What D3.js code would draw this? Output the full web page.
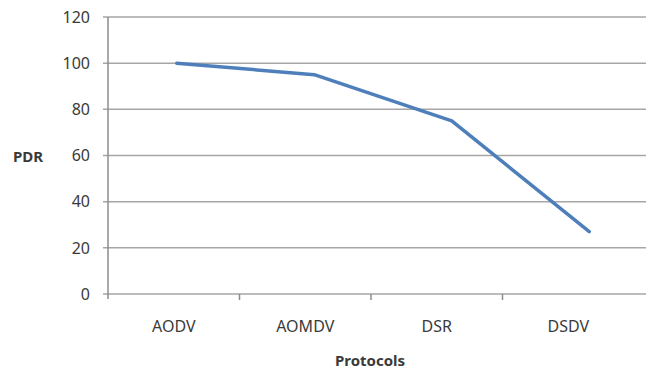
<!DOCTYPE html>
<html>
<head>
<meta charset="utf-8">
<script src="https://cdn.jsdelivr.net/npm/d3@7"></script>
<style>
  body { margin: 0; background: #fff; }
  svg { display: block; }
  text { font-family: "Noto Sans", sans-serif; fill: #3a3a3a; }
</style>
</head>
<body>
<svg id="chart"></svg>
<script>
const width = 646;
const height = 369;

const protocols = ["AODV", "AOMDV", "DSR", "DSDV"];
const pdr = [100, 95, 75, 27];
const yTicks = [0, 20, 40, 60, 80, 100, 120];

const plotLeft = 108, plotTop = 17, plotBottom = 294;

const svg = d3.select("#chart")
  .attr("width", width)
  .attr("height", height);

// axis categories
const x = d3.scaleBand()
  .domain(protocols)
  .range([plotLeft, 634]);

// the plotted line sits on a slightly wider spacing in the original
const xLine = d3.scaleBand()
  .domain(protocols)
  .range([plotLeft, 658]);

const y = d3.scaleLinear()
  .domain([0, 120])
  .range([plotBottom, plotTop]);

// gridlines
svg.append("g")
  .selectAll("line")
  .data(yTicks)
  .join("line")
    .attr("x1", plotLeft - 5)
    .attr("x2", width)
    .attr("y1", d => y(d))
    .attr("y2", d => y(d))
    .attr("stroke", "#a6a6a6")
    .attr("stroke-width", 1.5);

// y axis line
svg.append("line")
  .attr("x1", plotLeft).attr("x2", plotLeft)
  .attr("y1", plotTop).attr("y2", plotBottom + 5)
  .attr("stroke", "#8c8c8c")
  .attr("stroke-width", 1.5);

// y tick labels
svg.append("g")
  .selectAll("text")
  .data(yTicks)
  .join("text")
    .attr("x", 90)
    .attr("y", d => y(d))
    .attr("dy", "0.36em")
    .attr("text-anchor", "end")
    .attr("font-size", 16)
    .text(d => d);

// x ticks at band boundaries
svg.append("g")
  .selectAll("line")
  .data(protocols.slice(1))
  .join("line")
    .attr("x1", d => x(d))
    .attr("x2", d => x(d))
    .attr("y1", plotBottom)
    .attr("y2", plotBottom + 6)
    .attr("stroke", "#8c8c8c")
    .attr("stroke-width", 1.5);

// x labels
svg.append("g")
  .selectAll("text")
  .data(protocols)
  .join("text")
    .attr("x", d => x(d) + x.bandwidth() / 2)
    .attr("y", 332)
    .attr("text-anchor", "middle")
    .attr("font-size", 16)
    .text(d => d);

// the line
const line = d3.line()
  .x((d, i) => xLine(protocols[i]) + xLine.bandwidth() / 2)
  .y(d => y(d));

svg.append("path")
  .datum(pdr)
  .attr("d", line)
  .attr("fill", "none")
  .attr("stroke", "#4f7fba")
  .attr("stroke-width", 3.5)
  .attr("stroke-linejoin", "round")
  .attr("stroke-linecap", "round");

// axis titles
svg.append("text")
  .attr("x", 28)
  .attr("y", 162)
  .attr("text-anchor", "middle")
  .attr("font-size", 15)
  .attr("font-weight", "bold")
  .text("PDR");

svg.append("text")
  .attr("x", 370)
  .attr("y", 366)
  .attr("text-anchor", "middle")
  .attr("font-size", 15)
  .attr("font-weight", "bold")
  .text("Protocols");
</script>
</body>
</html>
